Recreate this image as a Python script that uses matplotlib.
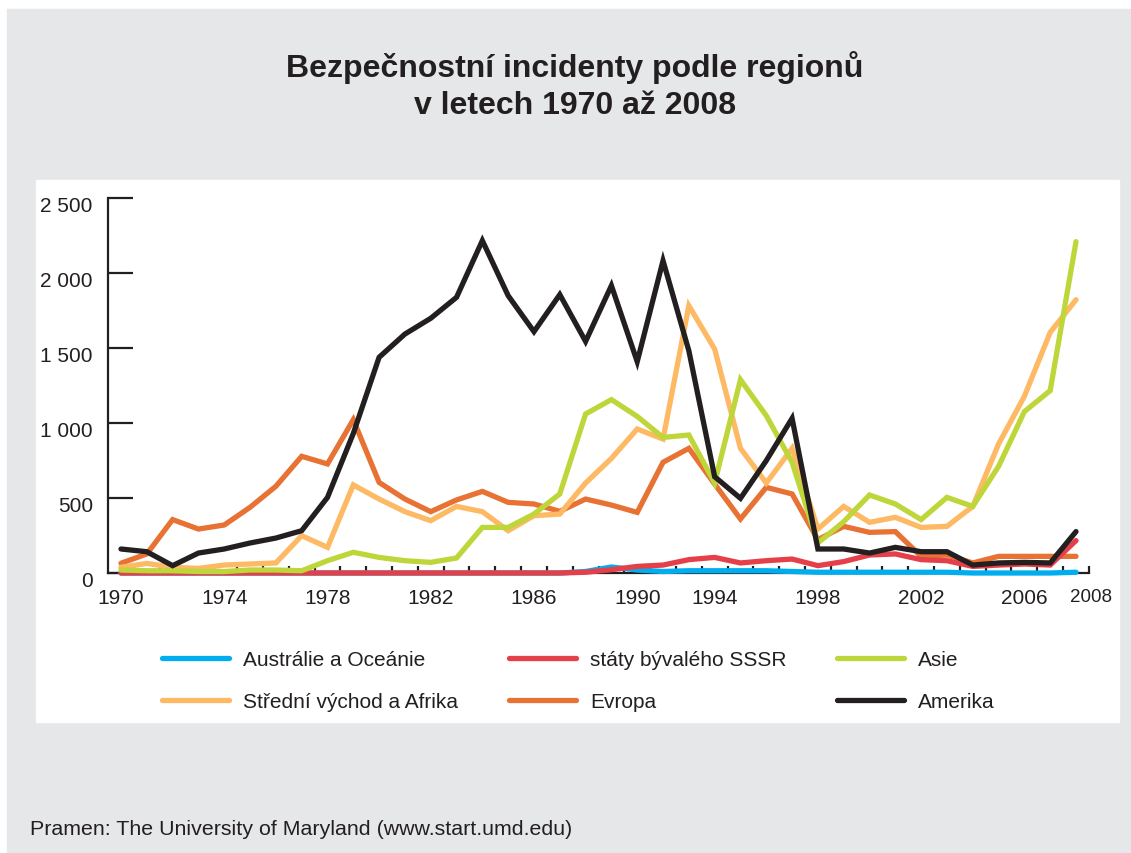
import matplotlib
matplotlib.use('Agg')
import matplotlib.pyplot as plt
from matplotlib.patches import Rectangle
from matplotlib.lines import Line2D
from matplotlib.ticker import FuncFormatter
from matplotlib.transforms import ScaledTranslation

# years in the source data (1993 is missing in the GTD)
years = list(range(1970, 1993)) + list(range(1994, 2009))

australie = [0] * 18 + [10, 40, 20, 10, 15,
             15, 15, 15, 10, 5, 5, 5, 5, 5, 5, 0, 0, 0, 0, 5]
sssr = [0] * 18 + [5, 22, 44, 53, 89,
        104, 67, 82, 93, 49, 76, 120, 127, 89, 82, 44, 53, 60, 53, 216]
asie = [20, 15, 15, 10, 10, 20, 20, 15, 82, 138,
        104, 82, 71, 100, 304, 304, 393, 527, 1060, 1156,
        1044, 904, 920,
        600, 1289, 1049, 738, 200, 342, 520, 460, 356, 504, 444, 711, 1076, 1216, 2209]
stredni = [38, 64, 38, 31, 53, 60, 67, 249, 171, 587,
           493, 409, 349, 444, 409, 282, 382, 393, 600, 764,
           960, 893, 1782,
           1493, 831, 600, 831, 293, 444, 338, 371, 304, 311, 444, 860, 1178, 1604, 1822]
evropa = [65, 127, 356, 293, 320, 438, 578, 778, 727, 1022,
          604, 493, 409, 487, 544, 471, 460, 411, 493, 453,
          404, 738, 831,
          593, 360, 571, 527, 222, 311, 271, 276, 111, 120, 67, 111, 111, 111, 111]
amerika = [160, 142, 49, 133, 160, 200, 233, 282, 504, 930,
           1438, 1593, 1698, 1838, 2216, 1849, 1609, 1856, 1544, 1916,
           1409, 2082, 1482,
           642, 498, 749, 1031, 160, 160, 133, 171, 142, 142, 53, 67, 71, 67, 276]

label_years = [1970, 1974, 1978, 1982, 1986, 1990, 1994, 1998, 2002, 2006]

names = ['Austrálie a Oceánie', 'státy bývalého SSSR', 'Asie',
         'Střední východ a Afrika', 'Evropa', 'Amerika']
colors = ['#00aeef', '#e5404a', '#bfd63a', '#fdb964', '#e77233', '#231f20']
series = [australie, sssr, asie, stredni, evropa, amerika]
zorders = [2, 4, 6, 5, 3, 7]

W, H = 1131, 854
fig = plt.figure(figsize=(W / 100, H / 100), dpi=100, facecolor='white')


def px(x0, y0, x1, y1):
    # pixel box (top-left origin) -> figure fraction rectangle args
    return (x0 / W, 1 - y1 / H), (x1 - x0) / W, (y1 - y0) / H


xy, w, h = px(7, 10, 1131, 853)
fig.patches.append(Rectangle(xy, w, h, transform=fig.transFigure, color='#e6e7e8', zorder=-2))
xy, w, h = px(36, 181, 1119, 723)
fig.patches.append(Rectangle(xy, w, h, transform=fig.transFigure, color='white', zorder=-1))

font = ['Liberation Sans', 'DejaVu Sans']
ink = '#231f20'

fig.text(575 / W, 1 - 86 / H, 'Bezpečnostní incidenty podle regionů\nv letech 1970 až 2008',
         ha='center', va='center', fontsize=23, fontweight='bold', family=font,
         color=ink, linespacing=1.27)
fig.text(30 / W, 1 - 830 / H, 'Pramen: The University of Maryland (www.start.umd.edu)',
         ha='left', va='center', fontsize=15.4, family=font, color=ink)

# axes: index 0 -> x=121px, index 37 -> x=1076px ; y 0 -> 574px, 2500 -> 199px
step = (1076 - 121) / 37
left_px = 121 - 0.5 * step
right_px = 121 + 38 * step
xy, w, h = px(left_px, 199, right_px, 574)
ax = fig.add_axes([xy[0], xy[1], w, h])
ax.set_facecolor('none')
ax.set_zorder(2)

idx = list(range(len(years)))
for name, col, vals, z in zip(names, colors, series, zorders):
    ax.plot(idx, vals, color=col, lw=3.8, label=name, clip_on=False, zorder=z,
            solid_joinstyle='miter', solid_capstyle='round')

ax.set_xlim(-0.5, 38)
ax.set_ylim(0, 2500)
for s in ['top', 'right']:
    ax.spines[s].set_visible(False)
for s in ['left', 'bottom']:
    ax.spines[s].set_linewidth(1.6)
    ax.spines[s].set_color(ink)
    ax.spines[s].set_zorder(1)
ax.spines['bottom'].set_bounds(-0.5, 37.5)

ax.set_yticks([0, 500, 1000, 1500, 2000, 2500])
ax.yaxis.set_major_formatter(FuncFormatter(lambda v, p: f'{int(v):,}'.replace(',', ' ')))
ax.tick_params(axis='y', direction='in', length=18, width=1.6, color=ink,
               pad=11, labelsize=15, labelcolor=ink)
for lab in ax.get_yticklabels():
    lab.set_family(font)
    lab.set_transform(lab.get_transform() + ScaledTranslation(0, -4 / 72, fig.dpi_scale_trans))

ax.set_xticks([i + 0.5 for i in range(38)])
ax.set_xticklabels([])
ax.tick_params(axis='x', which='major', direction='in', length=5, width=1.6, color=ink)
minor_pos = [years.index(y) for y in label_years] + [37.6]
ax.set_xticks(minor_pos, minor=True)
ax.set_xticklabels([str(y) for y in label_years] + ['2008'], minor=True)
ax.tick_params(axis='x', which='minor', length=0, pad=11, labelsize=15, labelcolor=ink)
for lab in ax.get_xticklabels(minor=True):
    lab.set_family(font)
ax.get_xticklabels(minor=True)[-1].set_fontsize(13.5)

# legend in three columns
handles = [Line2D([], [], color=c, lw=3.8, solid_capstyle='round') for c in colors]
col_x = [162, 509, 837]
for k in range(3):
    hs = [handles[k], handles[k + 3]]
    ls = [names[k], names[k + 3]]
    fig.legend(hs, ls, loc='upper left', bbox_to_anchor=(col_x[k] / W, 1 - 651 / H),
               frameon=False, prop={'family': font, 'size': 15},
               handlelength=3.2, handletextpad=0.7, labelspacing=1.1,
               borderpad=0, borderaxespad=0, labelcolor=ink)

fig.savefig('out.png', dpi=100, facecolor='white')
